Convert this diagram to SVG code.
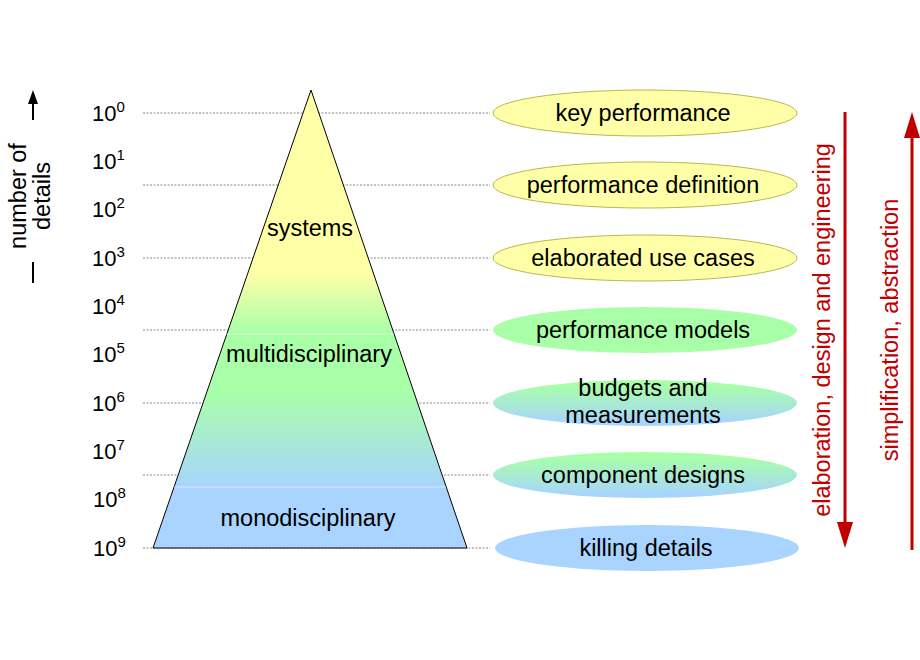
<svg xmlns="http://www.w3.org/2000/svg" width="920" height="660" viewBox="0 0 920 660">
<style>
text{font-family:"Liberation Sans",Arial,sans-serif;fill:#000}
.lbl{font-size:23.5px;text-anchor:middle}
.ax{font-size:22px}
.sup{font-size:15px}
.dash{stroke:#888;stroke-width:1;stroke-dasharray:2,1.5}
.red{font-size:23.5px;fill:#c00000;text-anchor:middle}
</style>
<defs>
<linearGradient id="tri" x1="0" y1="90" x2="0" y2="548" gradientUnits="userSpaceOnUse">
<stop offset="0.40" stop-color="#ffffa8"/>
<stop offset="0.53" stop-color="#a8ffa8"/>
<stop offset="0.66" stop-color="#a8ffa8"/>
<stop offset="0.87" stop-color="#a8d4ff"/>
</linearGradient>
<linearGradient id="gb" x1="0" y1="0" x2="0" y2="1">
<stop offset="0.1" stop-color="#a8ffa8"/>
<stop offset="0.95" stop-color="#a8d4ff"/>
</linearGradient>
</defs>
<g id="gridlines">
<line class="dash" x1="143" y1="113" x2="490" y2="113"/>
<line class="dash" x1="143" y1="185" x2="490" y2="185"/>
<line class="dash" x1="143" y1="258" x2="490" y2="258"/>
<line class="dash" x1="143" y1="330" x2="490" y2="330"/>
<line class="dash" x1="143" y1="403" x2="490" y2="403"/>
<line class="dash" x1="143" y1="475" x2="490" y2="475"/>
<line class="dash" x1="143" y1="548" x2="490" y2="548"/>
</g>
<g id="pyramid">
<polygon points="311,90 467,548 153,548" fill="url(#tri)" stroke="#000" stroke-width="1"/>
<line x1="225" y1="334" x2="394" y2="334" stroke="#fff" stroke-width="0.8" opacity="0.7"/>
<line x1="174" y1="487" x2="446" y2="487" stroke="#fff" stroke-width="0.8" opacity="0.7"/>
<text class="lbl" x="310" y="236">systems</text>
<text class="lbl" x="309" y="362">multidisciplinary</text>
<text class="lbl" x="308" y="526">monodisciplinary</text>
</g>
<g id="axis">
<text class="ax" x="92" y="121">10<tspan class="sup" dy="-9">0</tspan></text>
<text class="ax" x="92" y="169">10<tspan class="sup" dy="-9">1</tspan></text>
<text class="ax" x="92" y="217">10<tspan class="sup" dy="-9">2</tspan></text>
<text class="ax" x="92" y="266">10<tspan class="sup" dy="-9">3</tspan></text>
<text class="ax" x="92" y="314">10<tspan class="sup" dy="-9">4</tspan></text>
<text class="ax" x="92" y="362">10<tspan class="sup" dy="-9">5</tspan></text>
<text class="ax" x="92" y="411">10<tspan class="sup" dy="-9">6</tspan></text>
<text class="ax" x="92" y="459">10<tspan class="sup" dy="-9">7</tspan></text>
<text class="ax" x="93" y="507">10<tspan class="sup" dy="-9">8</tspan></text>
<text class="ax" x="93" y="556">10<tspan class="sup" dy="-9">9</tspan></text>
<text class="lbl" transform="translate(26,196) rotate(-90)">number of</text>
<text class="lbl" transform="translate(50,196) rotate(-90)">details</text>
<line x1="33" y1="120" x2="33" y2="102" stroke="#000" stroke-width="2"/>
<polygon points="28,104 38,104 33,90" fill="#000"/>
<line x1="33" y1="262" x2="33" y2="283" stroke="#000" stroke-width="2"/>
</g>
<g id="n1"><ellipse cx="645" cy="113" rx="152" ry="23" fill="#ffffa8" stroke="#b8b850"/><text class="lbl" x="643" y="121">key performance</text></g>
<g id="n2"><ellipse cx="645" cy="185" rx="152" ry="23" fill="#ffffa8" stroke="#b8b850"/><text class="lbl" x="643" y="193">performance definition</text></g>
<g id="n3"><ellipse cx="645" cy="258" rx="152" ry="23" fill="#ffffa8" stroke="#b8b850"/><text class="lbl" x="643" y="266">elaborated use cases</text></g>
<g id="n4"><ellipse cx="645" cy="330" rx="152" ry="23" fill="#a8ffa8"/><text class="lbl" x="643" y="338">performance models</text></g>
<g id="n5"><ellipse cx="645" cy="403" rx="152" ry="23" fill="url(#gb)"/><text class="lbl" x="643" y="396">budgets and</text><text class="lbl" x="643" y="423">measurements</text></g>
<g id="n6"><ellipse cx="645" cy="475" rx="152" ry="23" fill="url(#gb)"/><text class="lbl" x="643" y="483">component designs</text></g>
<g id="n7"><ellipse cx="647" cy="548" rx="152" ry="23" fill="#a8d4ff"/><text class="lbl" x="646" y="556">killing details</text></g>
<g id="connectors">
<line x1="845" y1="112" x2="845" y2="524" stroke="#c00000" stroke-width="3"/>
<polygon points="837,522 853,522 845,548" fill="#c00000"/>
<line x1="912" y1="550" x2="912" y2="136" stroke="#c00000" stroke-width="3"/>
<polygon points="904,138 920,138 912,112" fill="#c00000"/>
<text class="red" transform="translate(830,330) rotate(-90)">elaboration, design and engineering</text>
<text class="red" transform="translate(898,330) rotate(-90)">simplification, abstraction</text>
</g>
</svg>
